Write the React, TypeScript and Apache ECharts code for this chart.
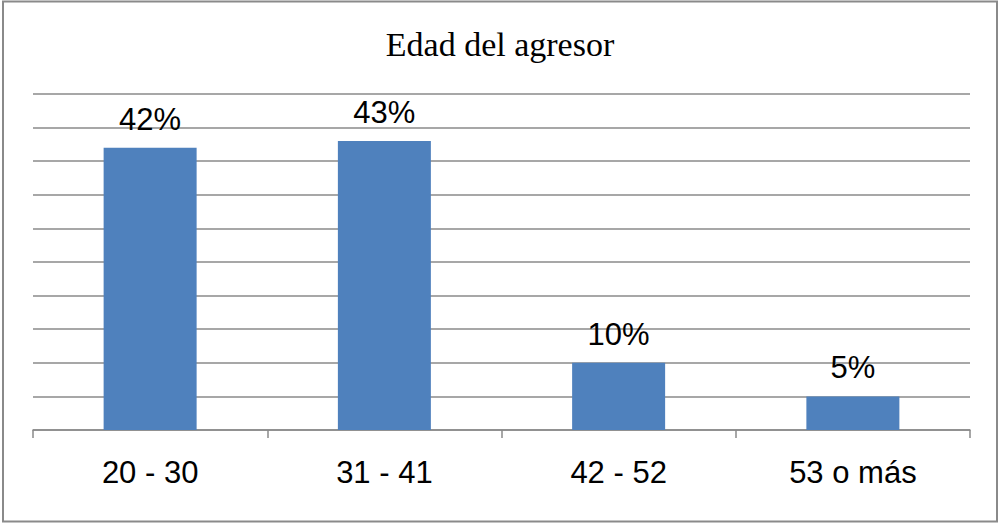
import React, { useEffect, useRef } from "react";
import * as echarts from "echarts";

const categories = ["20 - 30", "31 - 41", "42 - 52", "53 o más"];
const values = [0.42, 0.43, 0.10, 0.05];
const labels = ["42%", "43%", "10%", "5%"];
const title = "Edad del agresor";

export default function App() {
  const ref = useRef<HTMLDivElement>(null);
  useEffect(() => {
    if (!ref.current) return;
    const chart = echarts.init(ref.current, null, { renderer: "svg" });
    chart.setOption({
      animation: false,
      backgroundColor: "#ffffff",
      title: {
        text: title,
        left: "center",
        top: 22,
        textStyle: { fontFamily: "'Liberation Serif', 'Times New Roman', serif", fontSize: 34, fontWeight: "normal", color: "#000" },
      },
      graphic: [
        {
          type: "rect",
          shape: { x: 3, y: 1.5, width: 994, height: 520 },
          style: { fill: "none", stroke: "#8a8a8a", lineWidth: 2 },
          silent: true,
        },
      ],
      grid: { left: 33, right: 30, top: 94, bottom: 93 },
      xAxis: {
        type: "category",
        data: categories,
        axisLine: { lineStyle: { color: "#8a8a8a", width: 1.5 } },
        axisTick: { show: true, length: 8, lineStyle: { color: "#8a8a8a", width: 1.5 } },
        axisLabel: { color: "#000", fontFamily: "'Liberation Sans', Arial, sans-serif", fontSize: 31, margin: 27 },
      },
      yAxis: {
        type: "value",
        min: 0,
        max: 0.5,
        interval: 0.05,
        axisLabel: { show: false },
        axisLine: { show: false },
        axisTick: { show: false },
        splitLine: { lineStyle: { color: "#8a8a8a", width: 1.5 } },
      },
      series: [
        {
          type: "bar",
          data: values,
          barWidth: 93,
          itemStyle: { color: "#4F81BD" },
          label: {
            show: true,
            position: "top",
            distance: 13,
            formatter: (p: any) => labels[p.dataIndex],
            color: "#000",
            fontFamily: "'Liberation Sans', Arial, sans-serif",
            fontSize: 31,
          },
        },
      ],
    });
    return () => chart.dispose();
  }, []);
  return <div ref={ref} style={{ position: "fixed", left: 0, top: 0, width: 1000, height: 523 }} />;
}
